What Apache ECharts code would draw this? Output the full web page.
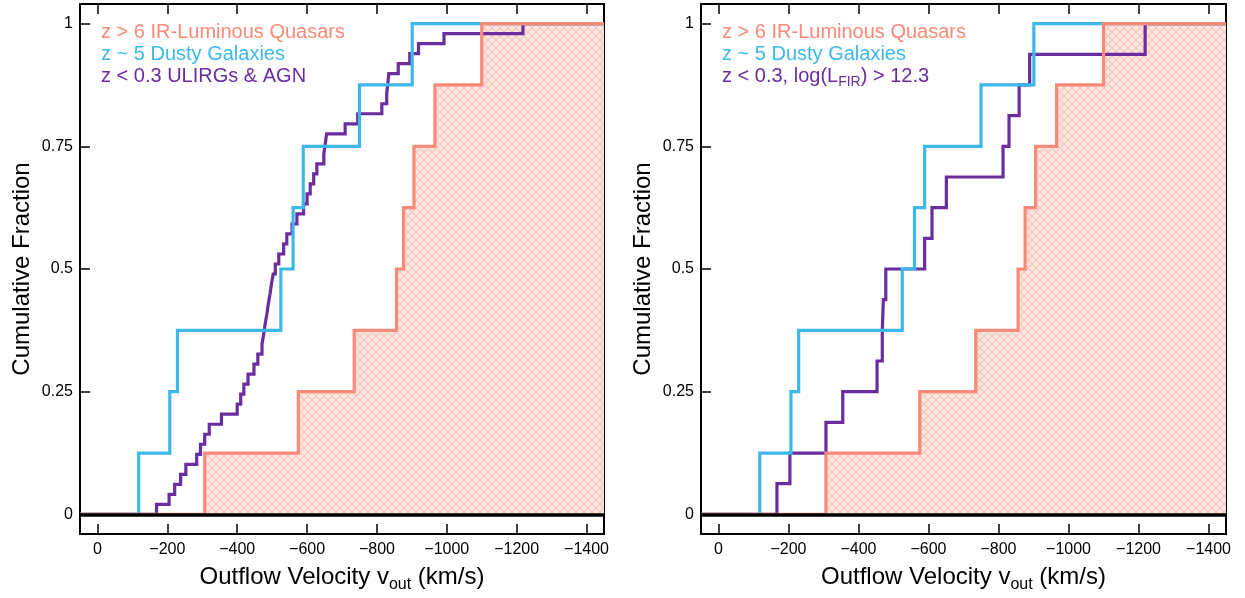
<!DOCTYPE html>
<html>
<head>
<meta charset="utf-8">
<script src="https://cdn.jsdelivr.net/npm/echarts@6/dist/echarts.min.js"></script>
<style>
  html, body { margin: 0; padding: 0; background: #ffffff; }
  #chart { width: 1245px; height: 598px; }
</style>
</head>
<body>
<div id="chart"></div>
<script>
// Tick positions shared by both panels
const velocityTicks = [0, -200, -400, -600, -800, -1000, -1200, -1400];
const fractionTicks = [0, 0.25, 0.5, 0.75, 1];

// Outflow velocities (km/s) of each sample
const quasarVelocities = [-307, -575, -735, -856, -876, -906, -966, -1100];
const dustyVelocities = [-118, -207, -229, -525, -560, -589, -750, -901];
const ulirgAgnVelocities = [
  -169, -205, -221, -238, -253, -284, -295, -307, -320, -355,
  -400, -410, -419, -431, -448, -459, -471, -476, -480, -485,
  -489, -494, -498, -503, -509, -519, -533, -542, -557, -571,
  -590, -600, -609, -619, -628, -648, -652, -656, -709, -745,
  -814, -828, -831, -834, -861, -894, -919, -992, -1218
];
const brightUlirgVelocities = [
  -167, -204, -307, -355, -453, -468, -471, -478,
  -589, -610, -651, -813, -830, -859, -889, -1219
];

// Legend labels
const leftLabels = ['z > 6 IR-Luminous Quasars', 'z ~ 5 Dusty Galaxies', 'z < 0.3 ULIRGs & AGN'];
const rightLabels = ['z > 6 IR-Luminous Quasars', 'z ~ 5 Dusty Galaxies', '{t|z < 0.3, log(L}{s|FIR}{t|) > 12.3}'];

const V_LEFT = 50, V_RIGHT = -1450;
const F_MIN = -0.04, F_MAX = 1.04;

const SALMON = '#F98A77';
const CYAN = '#3DB9E9';
const PURPLE = '#6A2D9F';
const FONT = '"Liberation Sans", Arial, Helvetica, sans-serif';

// Cumulative distribution as step points, from the left edge of the axis to the right edge
function cumulative(values) {
  const sorted = values.slice().sort((a, b) => b - a);
  const n = sorted.length;
  const pts = [[V_LEFT, 0]];
  sorted.forEach((v, i) => pts.push([v, (i + 1) / n]));
  pts.push([V_RIGHT, 1]);
  return pts;
}

// Cross-hatched fill tile
function hatchTile() {
  const c = document.createElement('canvas');
  const s = 8;
  c.width = s; c.height = s;
  const g = c.getContext('2d');
  g.fillStyle = '#FBE6E1';
  g.fillRect(0, 0, s, s);
  g.strokeStyle = '#F4C6BD';
  g.lineWidth = 1.2;
  for (const d of [-s, 0, s]) {
    g.beginPath(); g.moveTo(d, 0); g.lineTo(d + s, s); g.stroke();
    g.beginPath(); g.moveTo(d + s, 0); g.lineTo(d, s); g.stroke();
  }
  return c;
}
const hatch = { image: hatchTile(), repeat: 'repeat' };

const minusFmt = v => (v < 0 ? '\u2212' + Math.abs(v) : String(v));

function xAxes(gridIndex) {
  const common = {
    type: 'value', gridIndex, min: V_RIGHT, max: V_LEFT, inverse: true,
    splitLine: { show: false },
    axisLine: { onZero: false, lineStyle: { color: '#000', width: 2 } },
    axisTick: { inside: true, length: 10, customValues: velocityTicks, lineStyle: { color: '#000', width: 1.5 } }
  };
  return [
    Object.assign({}, common, {
      position: 'bottom',
      axisLabel: { customValues: velocityTicks, formatter: minusFmt, color: '#000', fontSize: 16, fontFamily: FONT, margin: 8 },
      name: '{t|Outflow Velocity v}{s|out}{t| (km/s)}',
      nameLocation: 'middle', nameGap: 27,
      nameTextStyle: {
        rich: {
          t: { fontSize: 24, fontFamily: FONT, color: '#000', lineHeight: 28, verticalAlign: 'bottom' },
          s: { fontSize: 16, fontFamily: FONT, color: '#000', lineHeight: 17, verticalAlign: 'bottom', padding: [0, 0, -4, 0] }
        }
      }
    }),
    Object.assign({}, common, { position: 'top', axisLabel: { show: false } })
  ];
}

function yAxes(gridIndex) {
  const common = {
    type: 'value', gridIndex, min: F_MIN, max: F_MAX,
    splitLine: { show: false },
    axisLine: { onZero: false, lineStyle: { color: '#000', width: 2 } },
    axisTick: { inside: true, length: 10, customValues: fractionTicks, lineStyle: { color: '#000', width: 1.5 } }
  };
  return [
    Object.assign({}, common, {
      position: 'left',
      axisLabel: { customValues: fractionTicks, color: '#000', fontSize: 16, fontFamily: FONT, margin: 7 },
      name: 'Cumulative Fraction', nameLocation: 'middle', nameGap: 46,
      nameTextStyle: { fontSize: 24, fontFamily: FONT, color: '#000' }
    }),
    Object.assign({}, common, { position: 'right', axisLabel: { show: false } })
  ];
}

function stepLine(name, values, color, xi, yi, z) {
  return {
    name, type: 'line', step: 'end', xAxisIndex: xi, yAxisIndex: yi, z,
    data: cumulative(values), showSymbol: false, symbol: 'none', silent: true,
    lineStyle: { color, width: 3.2, cap: 'butt', join: 'miter' }
  };
}

function panelSeries(xi, yi, lowZValues, lowZName) {
  return [
    {
      name: 'quasar-fill', type: 'line', step: 'end', xAxisIndex: xi, yAxisIndex: yi, z: 1,
      data: cumulative(quasarVelocities), showSymbol: false, symbol: 'none', silent: true,
      lineStyle: { width: 0, opacity: 0 },
      areaStyle: { color: hatch, opacity: 1, origin: 0 }
    },
    stepLine(lowZName, lowZValues, PURPLE, xi, yi, 2),
    stepLine('z ~ 5 Dusty Galaxies', dustyVelocities, CYAN, xi, yi, 3),
    Object.assign(stepLine('z > 6 IR-Luminous Quasars', quasarVelocities, SALMON, xi, yi, 4), {
      markLine: {
        silent: true, symbol: 'none', label: { show: false },
        lineStyle: { color: '#000', width: 3.5, type: 'solid' },
        data: [{ yAxis: 0 }]
      }
    })
  ];
}

function legendTexts(x, labels) {
  const colors = [SALMON, CYAN, PURPLE];
  return labels.map((txt, i) => ({
    type: 'text', left: x, top: 22 + i * 22, silent: true,
    style: {
      text: txt.indexOf('{') >= 0 ? txt : '{t|' + txt + '}',
      rich: {
        t: { fontSize: 20, fontFamily: FONT, fill: colors[i], lineHeight: 22, verticalAlign: 'bottom' },
        s: { fontSize: 14, fontFamily: FONT, fill: colors[i], lineHeight: 14, verticalAlign: 'bottom', padding: [0, 0, -3, 0] }
      }
    }
  }));
}

const chart = echarts.init(document.getElementById('chart'), null, { renderer: 'canvas' });
chart.setOption({
  animation: false,
  backgroundColor: '#ffffff',
  grid: [
    { left: 80, top: 4, width: 524, height: 533 },
    { left: 701, top: 4, width: 525, height: 533 }
  ],
  xAxis: xAxes(0).concat(xAxes(1)),
  yAxis: yAxes(0).concat(yAxes(1)),
  series: panelSeries(0, 0, ulirgAgnVelocities, 'z < 0.3 ULIRGs & AGN')
    .concat(panelSeries(2, 2, brightUlirgVelocities, 'z < 0.3, log(LFIR) > 12.3')),
  graphic: legendTexts(101, leftLabels).concat(legendTexts(722, rightLabels))
});
</script>
</body>
</html>
